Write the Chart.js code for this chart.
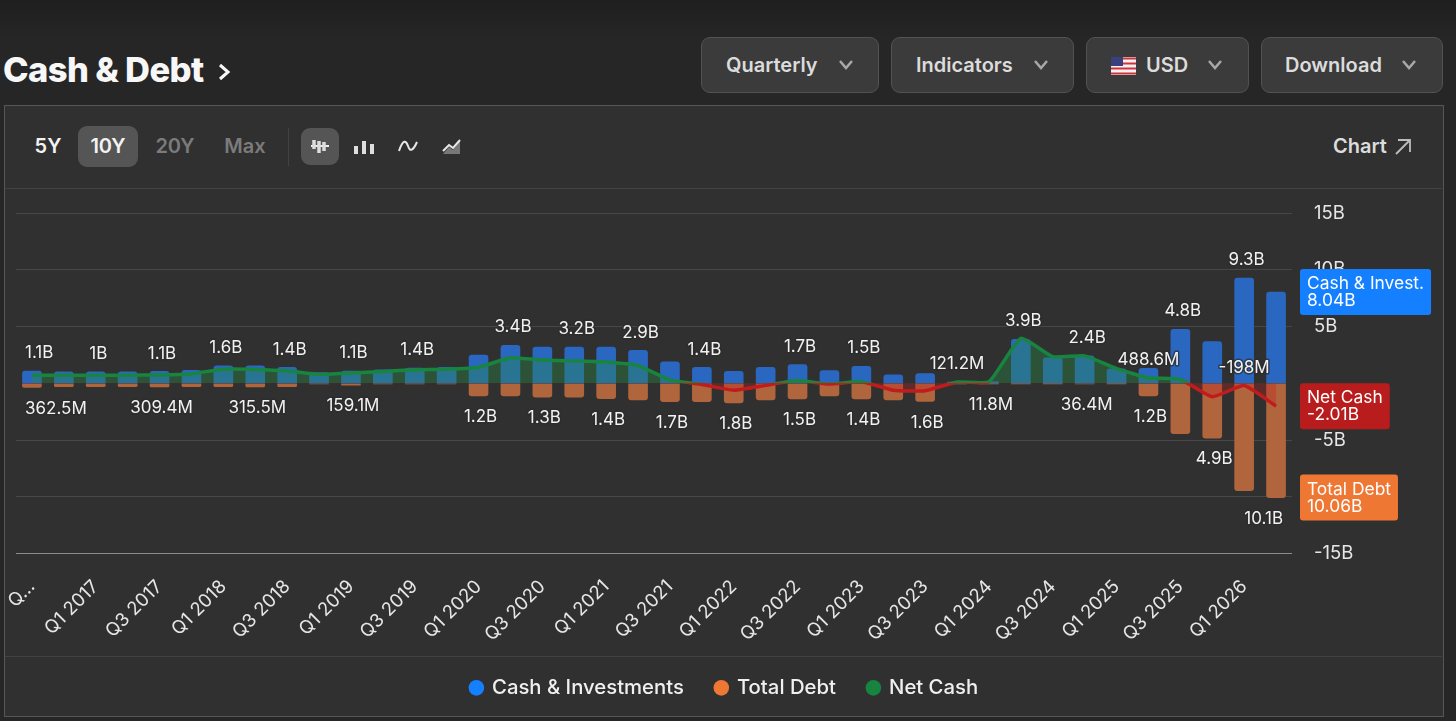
<!DOCTYPE html>
<html>
<head>
<meta charset="utf-8">
<title>Cash & Debt</title>
<script src="https://cdn.jsdelivr.net/npm/chart.js@4"></script>
<style>
html, body { margin: 0; padding: 0; width: 1456px; height: 721px; overflow: hidden; background: #262626; font-family: Inter, "Noto Sans", sans-serif; color: #f0f0f0; }
.top-shade { position: absolute; left: 0; top: 0; width: 1456px; height: 40px; background: linear-gradient(#1f1f1f, #262626); }
.title { position: absolute; left: 3px; top: 49px; font-size: 34.5px; line-height: 42px; font-weight: 800; letter-spacing: -0.6px; color: #f7f7f7; }
.title svg { position: absolute; left: 214px; top: 13px; }
.btn { position: absolute; top: 37px; height: 54px; background: #3b3b3b; border: 1px solid #525252; border-radius: 9px; font-size: 20px; line-height: 54px; font-weight: 600; color: #dcdcdc; box-sizing: content-box; }
.btn span { position: absolute; top: 0; }
.btn svg { position: absolute; }
.panel { position: absolute; left: 4px; top: 105px; width: 1438px; height: 610px; background: #303030; border: 1px solid #565656; }
.sep { position: absolute; left: 5px; width: 1437px; height: 1px; background: #424242; }
.range { position: absolute; top: 126px; height: 41px; line-height: 41px; font-size: 20px; font-weight: 600; text-align: center; }
.active { background: #555; border-radius: 9px; }
.icon { position: absolute; }
canvas { position: absolute; left: 0; top: 189px; }
</style>
</head>
<body>
<div class="top-shade"></div>
<div class="title">Cash &amp; Debt<svg width="14" height="20" viewBox="0 0 14 20"><path d="M3 3 L11 10 L3 17" fill="none" stroke="#f7f7f7" stroke-width="3"/></svg></div>

<div class="btn" style="left:701px;width:176px"><span style="left:24px">Quarterly</span><svg style="left:136px;top:21px" width="16" height="12"><path d="M2 2 L8 9 L14 2" fill="none" stroke="#a8a8a8" stroke-width="2.5"/></svg></div>
<div class="btn" style="left:891px;width:181px"><span style="left:24px">Indicators</span><svg style="left:141px;top:21px" width="16" height="12"><path d="M2 2 L8 9 L14 2" fill="none" stroke="#a8a8a8" stroke-width="2.5"/></svg></div>
<div class="btn" style="left:1086px;width:161px"><svg style="left:24px;top:19px" width="25" height="18" viewBox="0 0 25 18"><rect width="25" height="18" fill="#f2f2f2"/><path d="M0 1.5h25M0 6.5h25M0 11.5h25M0 16.5h25" stroke="#d0333c" stroke-width="2"/><rect width="12" height="9" fill="#39407e"/></svg><span style="left:59px">USD</span><svg style="left:120px;top:21px" width="16" height="12"><path d="M2 2 L8 9 L14 2" fill="none" stroke="#a8a8a8" stroke-width="2.5"/></svg></div>
<div class="btn" style="left:1261px;width:180px"><span style="left:23px">Download</span><svg style="left:139px;top:21px" width="16" height="12"><path d="M2 2 L8 9 L14 2" fill="none" stroke="#a8a8a8" stroke-width="2.5"/></svg></div>

<div class="panel"></div>
<div class="sep" style="top:188px"></div>
<div class="sep" style="top:656px"></div>

<div class="range" style="left:27px;width:42px;color:#f2f2f2">5Y</div>
<div class="range active" style="left:78px;width:60px;color:#f2f2f2">10Y</div>
<div class="range" style="left:150px;width:50px;color:#7b7b7b">20Y</div>
<div class="range" style="left:218px;width:54px;color:#7b7b7b">Max</div>
<div class="sep" style="left:288px;top:128px;width:1px;height:38px"></div>
<div class="active" style="position:absolute;left:301px;top:128px;width:38px;height:37px"></div>
<svg class="icon" style="left:310px;top:138px" width="20" height="17"><path d="M1 8h18" stroke="#eee" stroke-width="2"/><path d="M4 2v9M9 3v12M14 4v9" stroke="#ddd" stroke-width="3.5"/></svg>
<svg class="icon" style="left:354px;top:139px" width="20" height="16"><path d="M2 7v8M10 2v13M18 5v10" stroke="#dedede" stroke-width="4"/></svg>
<svg class="icon" style="left:398px;top:139px" width="20" height="16"><path d="M1 12 C5 0 8 1 10 7 C12 13 15 12 19 3" fill="none" stroke="#e8e8e8" stroke-width="2"/></svg>
<svg class="icon" style="left:442px;top:138px" width="20" height="17"><path d="M1 16 L7 9 L11 12 L18 2 V16 Z" fill="#777"/><path d="M1 13 L7 7 L11 10 L18 2" fill="none" stroke="#e8e8e8" stroke-width="2"/></svg>
<div class="range" style="left:1326px;width:68px;color:#dcdcdc">Chart</div>
<svg class="icon" style="left:1394px;top:138px" width="19" height="18"><path d="M2 16 L16 2 M4 2 H16 V14" fill="none" stroke="#bdbdbd" stroke-width="1.8"/></svg>

<canvas id="cashDebtChart" width="1456" height="519"></canvas>

<script>
// quarters, oldest first
const quarters = [
    'Q3 2016', 'Q4 2016', 'Q1 2017', 'Q2 2017', 'Q3 2017', 'Q4 2017', 'Q1 2018', 'Q2 2018',
    'Q3 2018', 'Q4 2018', 'Q1 2019', 'Q2 2019', 'Q3 2019', 'Q4 2019', 'Q1 2020', 'Q2 2020',
    'Q3 2020', 'Q4 2020', 'Q1 2021', 'Q2 2021', 'Q3 2021', 'Q4 2021', 'Q1 2022', 'Q2 2022',
    'Q3 2022', 'Q4 2022', 'Q1 2023', 'Q2 2023', 'Q3 2023', 'Q4 2023', 'Q1 2024', 'Q2 2024',
    'Q3 2024', 'Q4 2024', 'Q1 2025', 'Q2 2025', 'Q3 2025', 'Q4 2025', 'Q1 2026', 'Q2 2026'
];

// all values in billions
const cashValues = [
    1.08, 1.02, 1.02, 1.02, 1.05, 1.15, 1.55, 1.55, 1.4, 0.95,
    1.08, 1.2, 1.35, 1.4, 2.5, 3.35, 3.2, 3.2, 3.2, 2.9,
    1.9, 1.4, 1.05, 1.4, 1.65, 1.12, 1.5, 0.74, 0.85, 0.12,
    0.15, 3.88, 2.25, 2.42, 1.27, 1.33, 4.76, 3.68, 9.26, 8.04
];
const debtValues = [
    0.36, 0.3, 0.3, 0.3, 0.31, 0.3, 0.3, 0.32, 0.3, 0.06,
    0.16, 0.06, 0.06, 0.06, 1.1, 1.1, 1.22, 1.22, 1.35, 1.45,
    1.62, 1.62, 1.72, 1.45, 1.38, 1.1, 1.36, 1.45, 1.6, 0.01,
    0.01, 0.02, 0.03, 0.04, 0.03, 1.1, 4.42, 4.82, 9.46, 10.06
];
const netValues = [
    0.72, 0.72, 0.72, 0.72, 0.74, 0.85, 1.25, 1.23, 1.1, 0.79,
    0.92, 1.05, 1.2, 1.25, 1.42, 2.25, 2.05, 1.97, 1.88, 1.56,
    0.3, -0.1, -0.6, -0.18, 0.24, -0.06, 0.15, -0.6, -0.65, 0.12,
    0.14, 3.97, 2.35, 2.42, 1.3, 0.49, 0.34, -1.18, -0.198, -2.01
];

// value labels shown over the marks, null where the chart has none
const cashLabels = [
    '1.1B', null, '1B', null, '1.1B', null, '1.6B', null, '1.4B', null,
    '1.1B', null, '1.4B', null, null, '3.4B', null, '3.2B', null, '2.9B',
    null, '1.4B', null, null, '1.7B', null, '1.5B', null, null, null,
    null, '3.9B', null, '2.4B', null, null, '4.8B', null, '9.3B', null
];
const debtLabels = [
    '362.5M', null, null, null, '309.4M', null, null, '315.5M', null, null,
    '159.1M', null, null, null, '1.2B', null, '1.3B', null, '1.4B', null,
    '1.7B', null, '1.8B', null, '1.5B', null, '1.4B', null, '1.6B', null,
    '11.8M', null, null, '36.4M', null, '1.2B', null, '4.9B', null, '10.1B'
];
const netLabels = [
    null, null, null, null, null, null, null, null, null, null,
    null, null, null, null, null, null, null, null, null, null,
    null, null, null, null, null, null, null, null, null, '121.2M',
    null, null, null, null, null, '488.6M', null, null, '-198M', null
];

const yTickValues = { '15': '15B', '10': '10B', '5': '5B', '-5': '-5B', '-10': '-10B', '-15': '-15B' };

const COLORS = {
    cashBar: '#2a67c0',
    debtBar: '#b0653d',
    cash: '#1480ff',
    debt: '#ee7733',
    net: '#17843f',
    netDown: '#c01c1c',
    netTag: '#b81c1c',
    text: '#f2f2f2'
};

const LABEL_FONT = '17px Inter, "Noto Sans", sans-serif';

// Green above zero and red below, the switch sits exactly on the zero line
function netLineColor(context) {
    const chart = context.chart;
    if (!chart.chartArea) return COLORS.net;
    const area = chart.chartArea;
    const stop = (chart.scales.y.getPixelForValue(0) - area.top) / (area.bottom - area.top);
    const gradient = chart.ctx.createLinearGradient(0, area.top, 0, area.bottom);
    gradient.addColorStop(0, COLORS.net);
    gradient.addColorStop(stop, COLORS.net);
    gradient.addColorStop(stop, COLORS.netDown);
    gradient.addColorStop(1, COLORS.netDown);
    return gradient;
}

// Value labels near the marks, pushed back in at the two ends of the plot
const valueLabelsPlugin = {
    id: 'valueLabels',
    afterDatasetsDraw(chart) {
        const ctx = chart.ctx;
        ctx.save();
        ctx.font = LABEL_FONT;
        ctx.textAlign = 'center';
        ctx.textBaseline = 'middle';
        ctx.lineJoin = 'round';
        chart.data.datasets.forEach((dataset, i) => {
            const meta = chart.getDatasetMeta(i);
            dataset.valueLabels.forEach((text, index) => {
                if (!text) return;
                const el = meta.data[index];
                const half = ctx.measureText(text).width / 2;
                const x = Math.min(Math.max(el.x + dataset.labelNudge, chart.chartArea.left + 9 + half), chart.chartArea.right - 9 - half);
                const y = el.y + dataset.labelShift;
                ctx.strokeStyle = 'rgba(44, 44, 44, 0.75)';
                ctx.lineWidth = 3;
                ctx.strokeText(text, x, y);
                ctx.fillStyle = COLORS.text;
                ctx.fillText(text, x, y);
            });
        });
        ctx.restore();
    }
};

// Coloured tags on the right axis showing the latest value of each series
const lastValueTagsPlugin = {
    id: 'lastValueTags',
    afterDraw(chart) {
        const ctx = chart.ctx;
        const y = chart.scales.y;
        const tagLeft = chart.chartArea.right + 8;
        const tags = [
            { name: 'Cash & Invest.', value: cashValues[cashValues.length - 1], color: COLORS.cash, sign: 1 },
            { name: 'Net Cash', value: netValues[netValues.length - 1], color: COLORS.netTag, sign: 1 },
            { name: 'Total Debt', value: debtValues[debtValues.length - 1], color: COLORS.debt, sign: -1 }
        ];
        ctx.save();
        ctx.font = '17.4px Inter, "Noto Sans", sans-serif';
        ctx.textAlign = 'left';
        ctx.textBaseline = 'middle';
        tags.forEach(tag => {
            const shown = tag.value * tag.sign;
            const valueText = tag.value.toFixed(2) + 'B';
            const width = Math.max(ctx.measureText(tag.name).width, ctx.measureText(valueText).width) + 14;
            const centre = y.getPixelForValue(shown);
            ctx.fillStyle = tag.color;
            ctx.beginPath();
            ctx.roundRect(tagLeft, centre - 23, width, 46, 3);
            ctx.fill();
            ctx.fillStyle = '#ffffff';
            ctx.fillText(tag.name, tagLeft + 7, centre - 8);
            ctx.fillText(valueText, tagLeft + 7, centre + 9);
        });
        ctx.restore();
    }
};

const legendColors = [COLORS.cash, COLORS.debt, COLORS.net];

const chart = new Chart(document.getElementById('cashDebtChart'), {
    data: {
        labels: quarters,
        datasets: [
            {
                type: 'line',
                label: 'Net Cash',
                data: netValues,
                valueLabels: netLabels,
                labelShift: -18,
                labelNudge: 0,
                order: 0,
                borderColor: netLineColor,
                borderWidth: 3.5,
                pointRadius: 0,
                tension: 0.15,
                fill: {
                    target: { value: 0 },
                    above: 'rgba(40, 140, 70, 0.38)',
                    below: 'rgba(200, 30, 30, 0.32)'
                }
            },
            {
                type: 'bar',
                label: 'Cash & Investments',
                data: cashValues,
                valueLabels: cashLabels,
                labelShift: -18,
                labelNudge: 2.5,
                order: 1,
                grouped: false,
                backgroundColor: COLORS.cashBar,
                barThickness: 19,
                borderRadius: 3
            },
            {
                type: 'bar',
                label: 'Total Debt',
                data: debtValues.map(v => -v),
                valueLabels: debtLabels,
                labelShift: 21,
                labelNudge: 2,
                order: 2,
                grouped: false,
                backgroundColor: COLORS.debtBar,
                barThickness: 19,
                borderRadius: 3
            }
        ]
    },
    options: {
        responsive: false,
        animation: false,
        layout: { padding: { left: 16, top: 24, right: 23, bottom: 0 } },
        scales: {
            x: {
                offset: true,
                grid: { display: false },
                border: { display: false },
                afterFit(scale) {
                    scale.height = 92;
                    scale.paddingLeft = 0;
                    scale.paddingRight = 0;
                },
                ticks: {
                    autoSkip: false,
                    maxRotation: 45,
                    minRotation: 45,
                    padding: 14,
                    color: '#e6e6e6',
                    font: { family: 'Inter', size: 18.5 },
                    callback(value, index) {
                        if (index === 0) return 'Q...';
                        return index % 2 === 0 ? quarters[index] : '';
                    }
                }
            },
            y: {
                position: 'right',
                min: -15,
                max: 15,
                border: { display: false },
                afterFit(scale) {
                    scale.width = 141;
                    scale.paddingTop = 0;
                    scale.paddingBottom = 0;
                },
                grid: {
                    drawTicks: false,
                    lineWidth: 1,
                    color(context) {
                        if (context.tick.value === 0) return 'transparent';
                        return context.tick.value === -15 ? '#8c8c8c' : '#474747';
                    }
                },
                ticks: {
                    stepSize: 5,
                    padding: 22,
                    color: '#e6e6e6',
                    font: { family: 'Inter', size: 18.5 },
                    callback(value) { return yTickValues[value] || ''; }
                }
            }
        },
        plugins: {
            tooltip: { enabled: false },
            legend: {
                position: 'bottom',
                labels: {
                    color: '#f0f0f0',
                    font: { family: 'Inter', size: 20.3, weight: '500' },
                    usePointStyle: true,
                    pointStyle: 'circle',
                    boxWidth: 11,
                    boxHeight: 11,
                    padding: 32,
                    sort(a, b) { return legendOrder(a) - legendOrder(b); },
                    generateLabels(chart) {
                        return chart.data.datasets.map((dataset, i) => ({
                            text: dataset.label,
                            fontColor: '#f0f0f0',
                            fillStyle: dataset.label === 'Cash & Investments' ? legendColors[0] : dataset.label === 'Total Debt' ? legendColors[1] : legendColors[2],
                            strokeStyle: 'transparent',
                            lineWidth: 0,
                            pointStyle: 'circle',
                            datasetIndex: i
                        }));
                    }
                }
            }
        }
    },
    plugins: [valueLabelsPlugin, lastValueTagsPlugin]
});

function legendOrder(item) {
    return ['Cash & Investments', 'Total Debt', 'Net Cash'].indexOf(item.text);
}
</script>
</body>
</html>
